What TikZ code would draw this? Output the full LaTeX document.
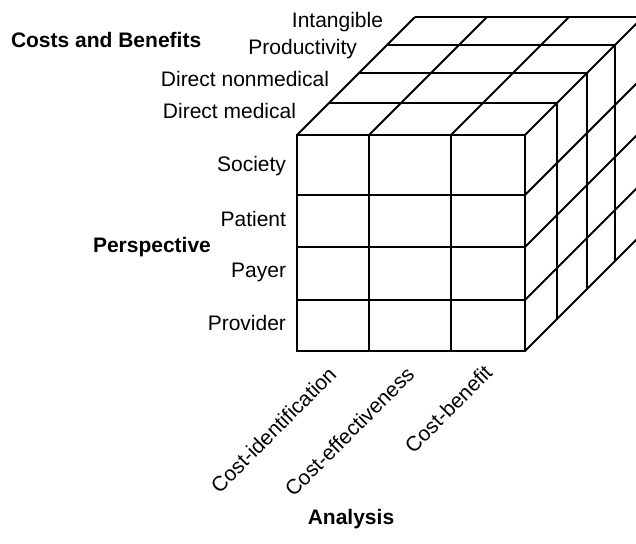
\documentclass[tikz,border=0pt]{standalone}
\usepackage{fontspec}
\setmainfont{Liberation Sans}
\begin{document}
\begin{tikzpicture}[x=0.5pt, y=-0.5pt, line width=1pt,
  every node/.style={font=\fontsize{10.5}{12}\selectfont},
  rowlabel/.style={anchor=east, inner sep=0pt},
  axislabel/.style={inner sep=0pt, font=\fontsize{10.5}{12}\selectfont\bfseries},
  analysislabel/.style={anchor=east, inner sep=0pt, rotate=45}]
\useasboundingbox (0,0) rectangle (636,543);
\clip (0,0) rectangle (636,543);
\draw (297,135) rectangle (525,351);
\draw (369,135) -- (369,351) (451,135) -- (451,351);
\draw (297,195) -- (525,195) (297,247) -- (525,247) (297,300) -- (525,300);
\draw (297,135) -- ++(118,-118) (369,135) -- ++(118,-118) (451,135) -- ++(118,-118) (525,135) -- ++(118,-118);
\draw (329,103) -- ++(228,0) (359,73) -- ++(228,0) (387,45) -- ++(228,0) (415,17) -- ++(228,0);
\draw (557,103) -- ++(0,216) (587,73) -- ++(0,216) (615,45) -- ++(0,216) (643,17) -- ++(0,216);
\draw (525,195) -- ++(118,-118) (525,247) -- ++(118,-118) (525,300) -- ++(118,-118) (525,351) -- ++(118,-118);
\node[rowlabel] (intangible) at (384,22) {Intangible};
\node[rowlabel] (productivity) at (358,49) {Productivity};
\node[rowlabel] (nonmedical) at (330,79) {Direct nonmedical};
\node[rowlabel] (medical) at (297,111) {Direct medical};
\node[rowlabel] (society) at (287,166) {Society};
\node[rowlabel] (patient) at (287,219) {Patient};
\node[rowlabel] (payer) at (287,272) {Payer};
\node[rowlabel] (provider) at (287,323) {Provider};
\node[axislabel, anchor=west] (costsbenefits) at (10,40) {Costs and Benefits};
\node[axislabel, anchor=west] (perspective) at (92,247) {Perspective};
\node[axislabel] (analysis) at (351,519) {Analysis};
\node[analysislabel] (costid) at (333,370) {Cost-identification};
\node[analysislabel] (costeff) at (411,370) {Cost-effectiveness};
\node[analysislabel] (costben) at (489,368) {Cost-benefit};
\end{tikzpicture}
\end{document}
